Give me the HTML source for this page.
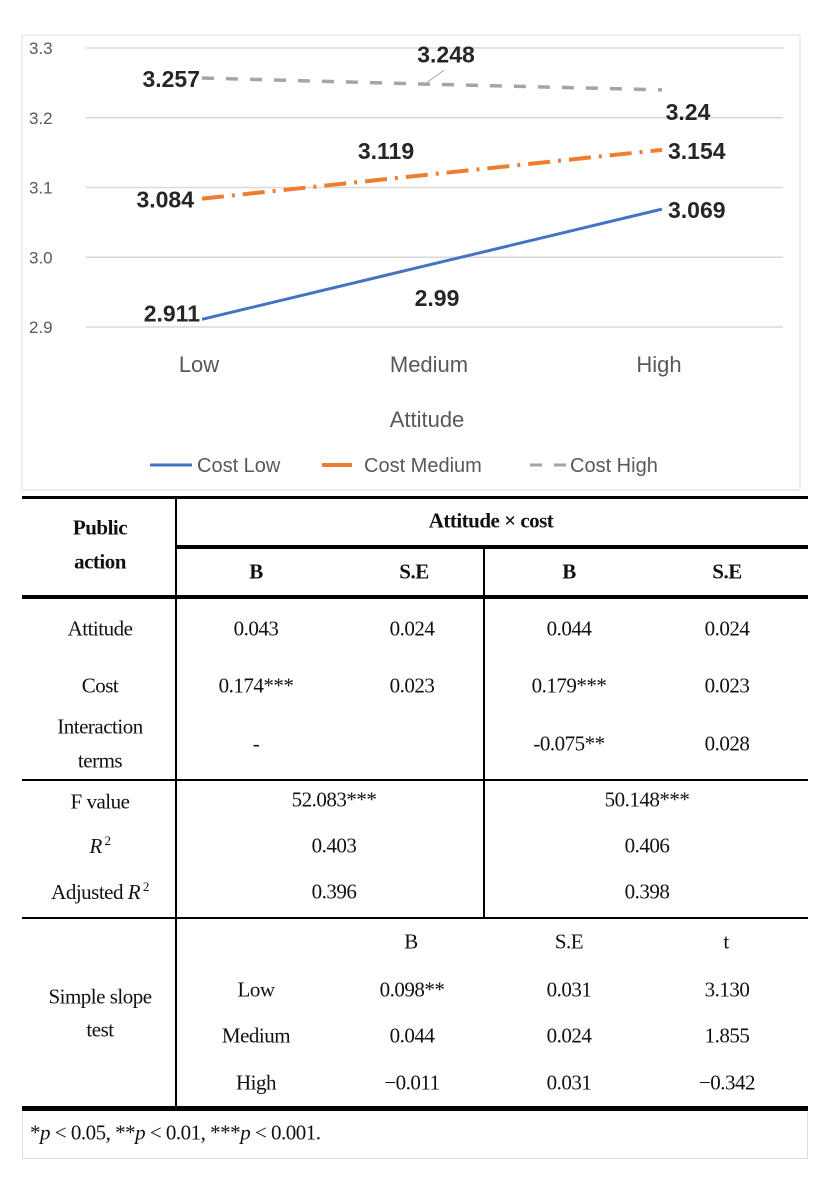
<!DOCTYPE html>
<html><head><meta charset="utf-8">
<style>
body{margin:0;background:#fff;width:821px;height:1184px;position:relative;overflow:hidden}
.t{position:absolute;font-family:"Liberation Serif",serif;font-size:21px;color:#111;transform:translate(-50%,-50%);white-space:nowrap;letter-spacing:-0.5px}
.b{font-weight:bold}
.hl{position:absolute;background:#000}
</style></head><body>
<svg width="821" height="495" style="position:absolute;left:0;top:0" font-family="Liberation Sans, sans-serif">
<rect x="22" y="35" width="778" height="455" fill="#fff" stroke="#ddd"/>
<g id="grid"></g><g id="series"></g><g id="labels"></g>
<text x="427" y="427" text-anchor="middle" font-size="22" fill="#595959">Attitude</text>
<g font-size="20" fill="#595959">
<line x1="150" y1="465" x2="192" y2="465" stroke="#4472c4" stroke-width="3"/><text x="197" y="472">Cost Low</text>
<line x1="322" y1="465" x2="352" y2="465" stroke="#ed7d31" stroke-width="4"/><text x="364" y="472">Cost Medium</text>
<line x1="530" y1="465" x2="568" y2="465" stroke="#a5a5a5" stroke-width="3" stroke-dasharray="12,12"/><text x="570" y="472">Cost High</text>
</g>
</svg>
<script>
const categories=["Low","Medium","High"];
const yTicks=[2.9,3.0,3.1,3.2,3.3];
const costLow=[2.911,2.99,3.069];
const costMedium=[3.084,3.119,3.154];
const costHigh=[3.257,3.248,3.24];
const NS="http://www.w3.org/2000/svg";
function y(v){return 327-(v-2.9)/0.4*279;}
function x(i){return 202+i*230;}
function mk(tag,attrs,parent,text){const e=document.createElementNS(NS,tag);for(const k in attrs)e.setAttribute(k,attrs[k]);if(text!==undefined)e.textContent=text;parent.appendChild(e);return e;}
const grid=document.getElementById('grid');
yTicks.forEach(t=>{
 const l=mk('line',{x1:86,x2:783,y1:y(t),y2:y(t),stroke:'#d9d9d9','stroke-width':1.5},grid);
 
 
 const tx=mk('text',{x:29,y:y(t)+6,'font-size':17,fill:'#595959'},grid,t.toFixed(1));
 
 
});
categories.forEach((c,i)=>{
 const tx=mk('text',{x:x(i)-3,y:372,'text-anchor':'middle','font-size':22,fill:'#595959'},grid,c);
 
 
});
const ser=document.getElementById('series');
const defs=[[costLow,'#4472c4','none','cost-low-line',3],[costMedium,'#ed7d31','22,8,3,8','cost-medium-line',4],[costHigh,'#a5a5a5','12,12','cost-high-line',3.5]];
defs.forEach(d=>{
 const pts=d[0].map((v,i)=>x(i)+','+y(v)).join(' ');
 const p=mk('polyline',{points:pts,fill:'none',stroke:d[1],'stroke-width':d[4],'stroke-dasharray':d[2]},ser);
 
 
});
const lab=document.getElementById('labels');
function L(v,i,dx,dy,anchor,name){
 const t=mk('text',{x:x(i)+dx,y:y(v)+dy,'text-anchor':anchor,'font-size':23,'font-weight':'bold',fill:'#262626'},lab,String(v));
 
 
}
L(costHigh[0],0,-2,9,'end','label-high-low');
L(costHigh[1],1,14,-22,'middle','label-high-medium');
mk('line',{x1:x(1)-5,y1:y(costHigh[1])-2,x2:x(1)+12,y2:y(costHigh[1])-14,stroke:'#a5a5a5'},lab);
L(costHigh[2],2,26,30,'middle','label-high-high');
L(costMedium[0],0,-8,9,'end','label-medium-low');
L(costMedium[1],1,-46,-15,'middle','label-medium-medium');
L(costMedium[2],2,6,9,'start','label-medium-high');
L(costLow[0],0,-2,2,'end','label-low-low');
L(costLow[1],1,5,42,'middle','label-low-medium');
L(costLow[2],2,6,9,'start','label-low-high');
</script>

<div>
<div class="hl" style="left:22px;top:496px;width:786px;height:3px"></div>
<div class="hl" style="left:175px;top:545px;width:633px;height:4px"></div>
<div class="hl" style="left:22px;top:595px;width:786px;height:4px"></div>
<div class="hl" style="left:22px;top:779px;width:786px;height:2px"></div>
<div class="hl" style="left:22px;top:917px;width:786px;height:2px"></div>
<div class="hl" style="left:22px;top:1106px;width:786px;height:5px"></div>
<div class="hl" style="left:175px;top:497px;width:2px;height:610px"></div>
<div class="hl" style="left:483px;top:547px;width:2px;height:371px"></div>
<div style="position:absolute;left:22px;top:1111px;width:784px;height:47px;border:1px solid #ddd;border-top:none"></div>

<div class="t b" style="left:100px;top:528px">Public</div>
<div class="t b" style="left:100px;top:562px">action</div>
<div class="t b" style="left:491px;top:521px">Attitude × cost</div>
<div class="t b" style="left:256px;top:572px">B</div>
<div class="t b" style="left:414px;top:572px">S.E</div>
<div class="t b" style="left:569px;top:572px">B</div>
<div class="t b" style="left:727px;top:572px">S.E</div>

<div class="t" style="left:100px;top:629px">Attitude</div>
<div class="t" style="left:256px;top:629px">0.043</div>
<div class="t" style="left:412px;top:629px">0.024</div>
<div class="t" style="left:569px;top:629px">0.044</div>
<div class="t" style="left:727px;top:629px">0.024</div>
<div class="t" style="left:100px;top:686px">Cost</div>
<div class="t" style="left:256px;top:686px">0.174***</div>
<div class="t" style="left:412px;top:686px">0.023</div>
<div class="t" style="left:569px;top:686px">0.179***</div>
<div class="t" style="left:727px;top:686px">0.023</div>
<div class="t" style="left:100px;top:727px">Interaction</div>
<div class="t" style="left:100px;top:761px">terms</div>
<div class="t" style="left:256px;top:744px">-</div>
<div class="t" style="left:569px;top:744px">-0.075**</div>
<div class="t" style="left:727px;top:744px">0.028</div>

<div class="t" style="left:100px;top:802px">F value</div>
<div class="t" style="left:334px;top:800px">52.083***</div>
<div class="t" style="left:647px;top:800px">50.148***</div>
<div class="t" style="left:100px;top:846px"><i>R</i><sup style="font-size:13px"> 2</sup></div>
<div class="t" style="left:334px;top:846px">0.403</div>
<div class="t" style="left:647px;top:846px">0.406</div>
<div class="t" style="left:100px;top:892px">Adjusted <i>R</i><sup style="font-size:13px"> 2</sup></div>
<div class="t" style="left:334px;top:892px">0.396</div>
<div class="t" style="left:647px;top:892px">0.398</div>

<div class="t" style="left:411px;top:942px">B</div>
<div class="t" style="left:569px;top:942px">S.E</div>
<div class="t" style="left:726px;top:942px">t</div>
<div class="t" style="left:100px;top:997px">Simple slope</div>
<div class="t" style="left:100px;top:1030px">test</div>
<div class="t" style="left:256px;top:990px">Low</div>
<div class="t" style="left:412px;top:990px">0.098**</div>
<div class="t" style="left:569px;top:990px">0.031</div>
<div class="t" style="left:727px;top:990px">3.130</div>
<div class="t" style="left:256px;top:1036px">Medium</div>
<div class="t" style="left:412px;top:1036px">0.044</div>
<div class="t" style="left:569px;top:1036px">0.024</div>
<div class="t" style="left:727px;top:1036px">1.855</div>
<div class="t" style="left:256px;top:1083px">High</div>
<div class="t" style="left:412px;top:1083px">−0.011</div>
<div class="t" style="left:569px;top:1083px">0.031</div>
<div class="t" style="left:727px;top:1083px">−0.342</div>
<div class="t" style="left:30px;top:1133px;transform:translate(0,-50%)">*<i>p</i> &lt; 0.05, **<i>p</i> &lt; 0.01, ***<i>p</i> &lt; 0.001.</div>
</div>
</body></html>
